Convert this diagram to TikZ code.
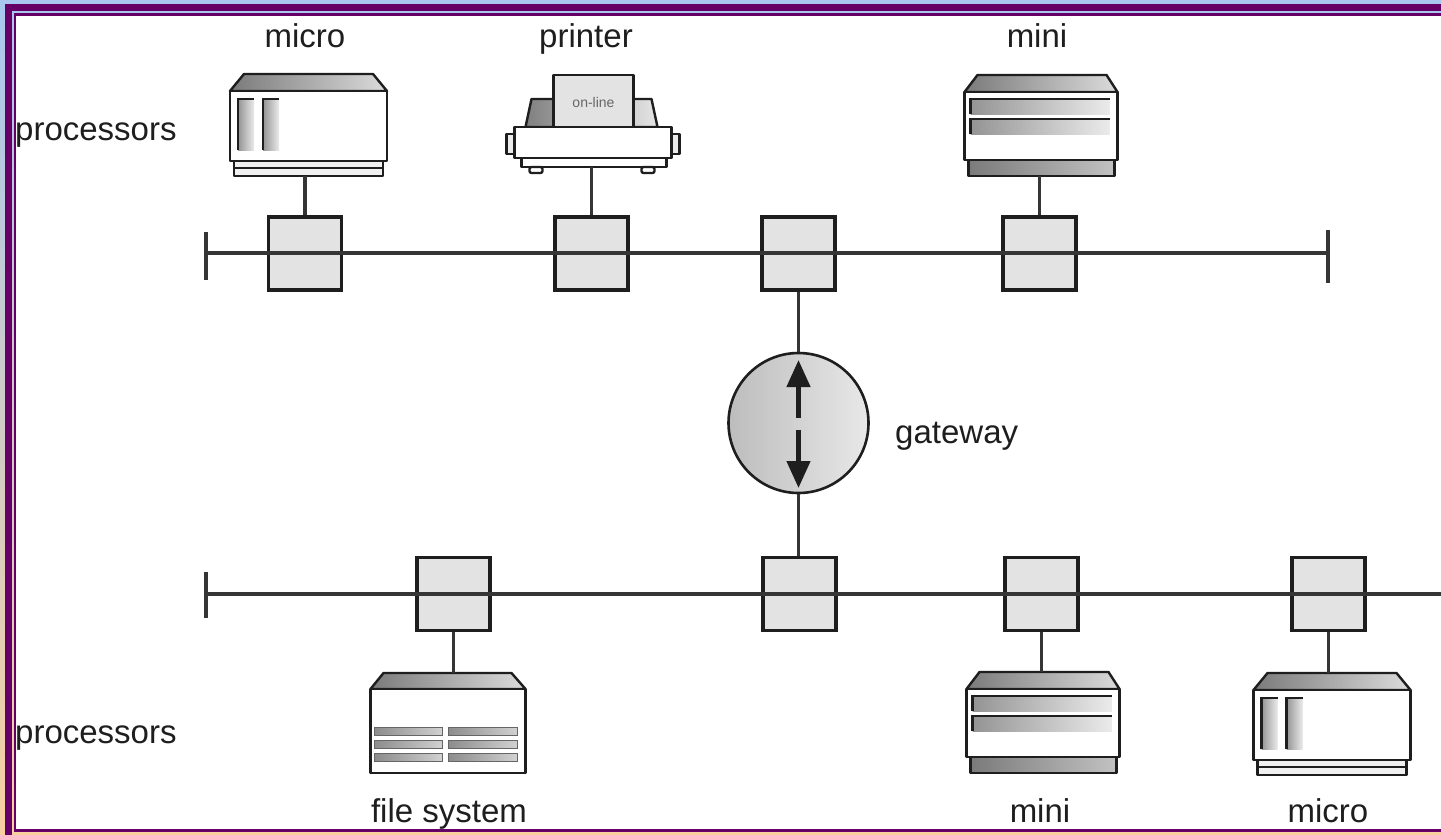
\documentclass[tikz,border=0pt]{standalone}
\usepackage{fontspec}
\setmainfont{Liberation Sans}
\usetikzlibrary{arrows.meta,calc}

\definecolor{frameviolet}{HTML}{660066}
\definecolor{skyband}{HTML}{A8C8F0}
\definecolor{peachband}{HTML}{F8D0A0}
\definecolor{ink}{HTML}{1E1E1E}

\tikzset{
  outline/.style={draw=ink, line width=2.4pt, line join=round},
  tap/.style={rectangle, draw=ink, line width=3.2pt, fill=black!11,
    minimum width=73pt, minimum height=73pt, inner sep=0pt},
  wire/.style={draw=ink!90, line width=3.3pt},
  devlabel/.style={font=\fontsize{33}{40}\selectfont, text=ink, inner sep=0pt, anchor=base},
  % desktop "micro" computer
  pics/micro/.style={code={
    \draw[outline, left color=black!52, right color=black!14]
      (-61,-17) -- (68,-17) -- (82,0) -- (-75,0) -- cycle;
    \draw[outline, fill=white] (-75,0) rectangle (82,70);
    \foreach \a in {-67,-42}{
      \shade[left color=black!42, right color=black!8] (\a,8) rectangle ({\a+16},59);
      \draw[ink, line width=2.6pt] (\a,59) |- ({\a+16},8);
    }
    \draw[outline, fill=black!6] (-71,70) rectangle (78,85);
    \draw[outline] (-71,77) -- (78,77);
    \coordinate (-top) at (0,-17);
    \coordinate (-bot) at (0,85);
  }},
  % "mini" computer cabinet
  pics/mini/.style={code={
    \draw[outline, left color=black!52, right color=black!14]
      (-62,-17) -- (67,-17) -- (78,0) -- (-75,0) -- cycle;
    \draw[outline, fill=white] (-75,0) rectangle (78,68);
    \foreach \b in {7,27}{
      \shade[left color=black!42, right color=black!8] (-69,\b) rectangle (70,{\b+15});
      \draw[ink, line width=2.6pt] (-69,{\b+15}) |- (70,\b);
    }
    \draw[outline, left color=black!52, right color=black!24] (-71,68) rectangle (75,84);
    \coordinate (-top) at (0,-17);
    \coordinate (-bot) at (0,84);
  }},
  % file server cabinet with drive slots
  pics/filesys/.style={code={
    \draw[outline, left color=black!52, right color=black!14]
      (-70,-16) -- (58,-16) -- (72,0) -- (-83,0) -- cycle;
    \draw[outline, fill=white] (-83,0) rectangle (72,84);
    \foreach \c/\d in {-79/-11,-5/64}{
      \foreach \r in {38,51,64}{
        \draw[draw=black!60, line width=1pt, left color=black!45, right color=black!18]
          (\c,\r) rectangle (\d,{\r+8});
      }
    }
    \coordinate (-top) at (0,-16);
  }},
  % line printer
  pics/printer/.style={code={
    \draw[outline, left color=black!50, right color=black!10]
      (-66,0) -- (-60,-28) -- (60,-28) -- (66,0) -- cycle;
    \draw[outline, fill=black!11] (-38,-52) rectangle (42,0);
    \node[font=\fontsize{14}{16}\selectfont, text=black!60, inner sep=0pt] (-tag) at (2,-25) {on-line};
    \draw[outline, fill=black!8] (-85,7) rectangle (-77,27);
    \draw[outline, fill=black!8] (80,7) rectangle (88,27);
    \draw[outline, fill=white] (-77,0) rectangle (80,31);
    \draw[outline, fill=white] (-70,31) rectangle (75,40);
    \draw[outline, fill=white, rounded corners=2pt] (-62,40) rectangle (-49,46);
    \draw[outline, fill=white, rounded corners=2pt] (50,40) rectangle (63,46);
    \coordinate (-bot) at (0,40);
  }},
}

\begin{document}
\begin{tikzpicture}[x=1pt, y=-1pt]
  \useasboundingbox (0,0) rectangle (1441,835);
  \clip (0,0) rectangle (1441,835);

  % slide frame
  \fill[top color=skyband, bottom color=peachband] (0,0) rectangle (1441,835);
  \fill[frameviolet] (5,4) rectangle (1460,850);
  \fill[top color=skyband, bottom color=peachband] (12,11) rectangle (1460,835);
  \fill[frameviolet] (14,13) rectangle (1460,832);
  \fill[white] (16,16) rectangle (1460,829);

  % taps on the upper network
  \node[tap] (t1) at (305,253.5) {};
  \node[tap] (t2) at (591.5,253.5) {};
  \node[tap] (t3) at (798.5,253.5) {};
  \node[tap] (t4) at (1039.5,253.5) {};

  % taps on the lower network
  \node[tap] (b1) at (453.5,594) {};
  \node[tap] (b2) at (799.5,594) {};
  \node[tap] (b3) at (1041.5,594) {};
  \node[tap] (b4) at (1328.5,594) {};

  % bus cables with terminators
  \coordinate (tbL) at (206,253);
  \coordinate (tbR) at (1328,253);
  \coordinate (bbL) at (206,594);
  \coordinate (bbR) at (1441,594);
  \draw[wire] (tbL) -- (tbR);
  \draw[wire] ([yshift=21pt]tbL) -- ([yshift=-27pt]tbL);
  \draw[wire] ([yshift=23pt]tbR) -- ([yshift=-30pt]tbR);
  \draw[wire] (bbL) -- (bbR);
  \draw[wire] ([yshift=22pt]bbL) -- ([yshift=-24pt]bbL);

  % gateway between the two networks
  \node[circle, draw=ink, line width=2.6pt, minimum size=140pt, inner sep=0pt,
        left color=black!26, right color=black!9] (gw) at (798.5,423) {};
  \draw[wire] (t3.south) -- (gw.north);
  \draw[wire] (gw.south) -- (gw.south |- b2.north);
  \draw[ink, line width=4.5pt, -{Triangle[width=23pt,length=27pt]}]
    ([yshift=5pt]gw.center) -- ([yshift=63pt]gw.center);
  \draw[ink, line width=4.5pt, -{Triangle[width=23pt,length=27pt]}]
    ([yshift=-7pt]gw.center) -- ([yshift=-65pt]gw.center);

  % processors on the upper network
  \pic (mc1) at (305,91) {micro};
  \pic (pr) at (591.5,127) {printer};
  \pic (mn1) at (1039.5,92) {mini};
  \draw[wire] (mc1-bot) -- (t1.north);
  \draw[wire] (pr-bot) -- (t2.north);
  \draw[wire] (mn1-bot) -- (t4.north);

  % processors on the lower network
  \pic (fs) at (453.5,689) {filesys};
  \pic (mn2) at (1041.5,689) {mini};
  \pic (mc2) at (1328.5,690) {micro};
  \draw[wire] (b1.south) -- (fs-top);
  \draw[wire] (b3.south) -- (mn2-top);
  \draw[wire] (b4.south) -- (mc2-top);

  % labels
  \node[devlabel] (lmc1) at (305,47) {micro};
  \node[devlabel] (lpr) at (586,47) {printer};
  \node[devlabel] (lmn1) at (1037,47) {mini};
  \node[devlabel, anchor=base west] (lproc1) at (15,140) {processors};
  \node[devlabel, anchor=base west] (lgw) at (895,443) {gateway};
  \node[devlabel, anchor=base west] (lproc2) at (15,743) {processors};
  \node[devlabel] (lfs) at (449,822) {file system};
  \node[devlabel] (lmn2) at (1040,822) {mini};
  \node[devlabel] (lmc2) at (1328,822) {micro};
\end{tikzpicture}
\end{document}
